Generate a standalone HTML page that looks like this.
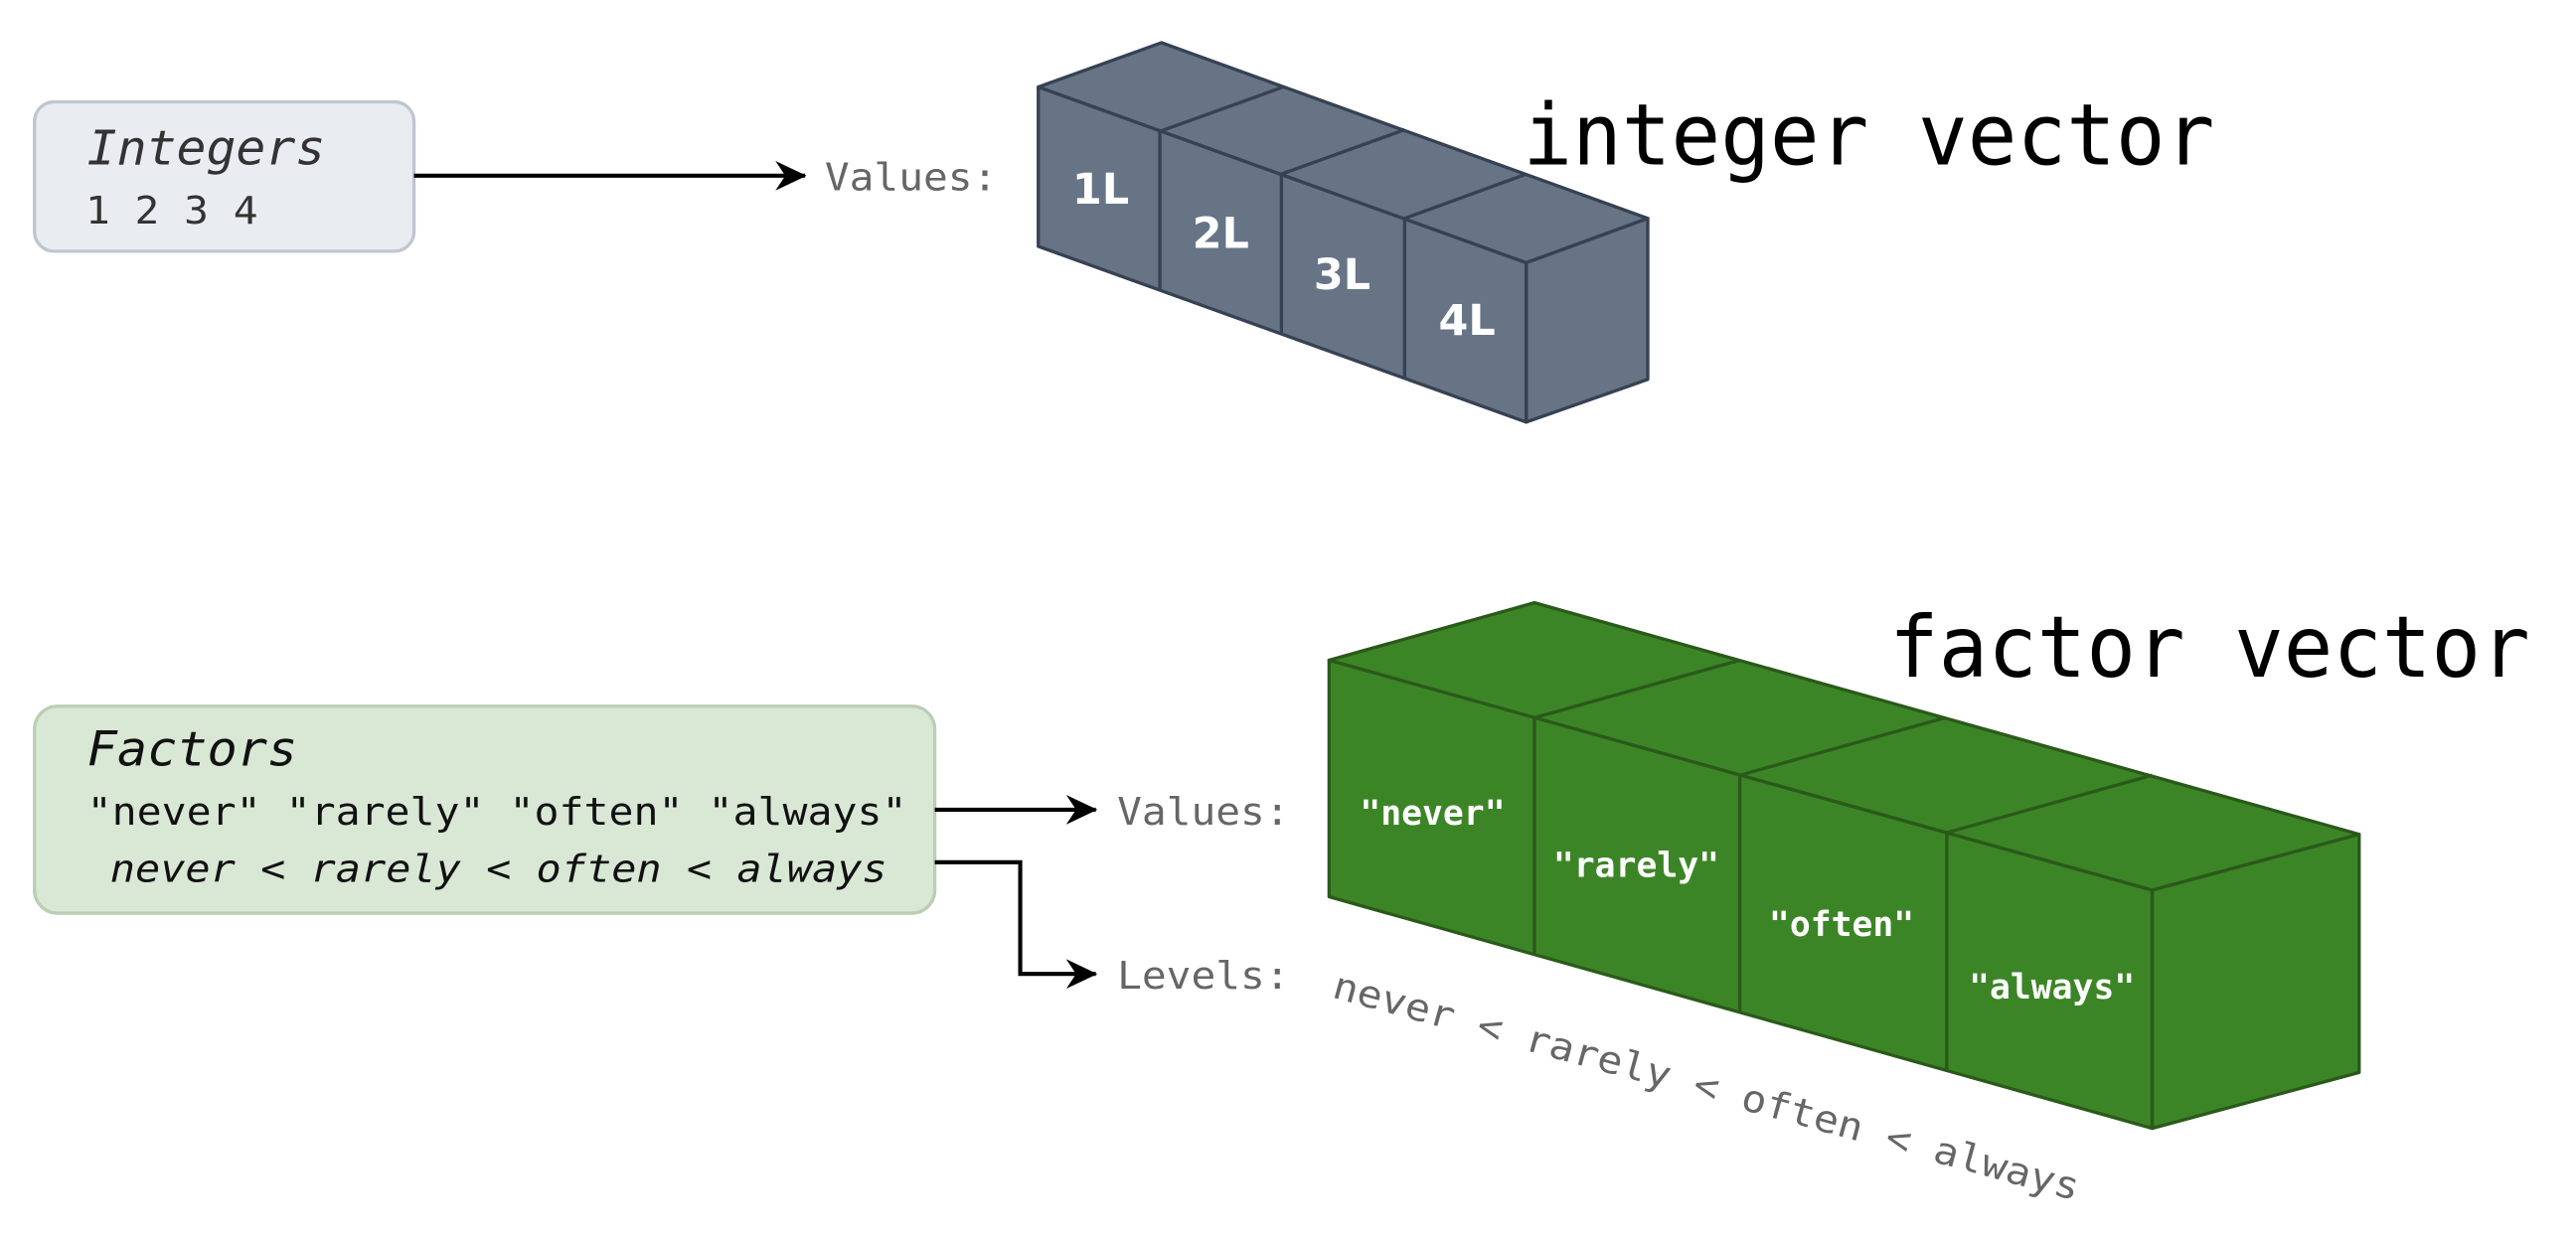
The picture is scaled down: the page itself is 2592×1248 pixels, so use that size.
<!DOCTYPE html>
<html><head><style>html,body{margin:0;padding:0;background:#fff}svg{display:block}</style></head><body>
<svg width="2592" height="1248" viewBox="0 0 1568 755" preserveAspectRatio="none" xmlns="http://www.w3.org/2000/svg">
<defs><marker id="a" markerWidth="20" markerHeight="20" refX="18" refY="10" orient="auto" markerUnits="userSpaceOnUse"><path d="M0,1 L19,10 L0,19 L6,10 Z" fill="#000"/></marker></defs>
<g font-family="'DejaVu Sans Mono','Liberation Mono',monospace">
<rect x="21" y="62" width="231" height="91" rx="12" fill="#e9edf1" stroke="#bfc6cf" stroke-width="2"/>
<text x="53" y="100" font-size="29" font-style="italic" fill="#333" textLength="145" lengthAdjust="spacingAndGlyphs">Integers</text>
<text x="52" y="136" font-size="23" fill="#333" textLength="105" lengthAdjust="spacingAndGlyphs">1 2 3 4</text>
<line x1="252" y1="107" x2="490" y2="107" stroke="#000" stroke-width="2.5" marker-end="url(#a)"/>
<text x="502" y="116" font-size="23" fill="#666" textLength="105" lengthAdjust="spacingAndGlyphs">Values:</text>
<text x="927" y="100" font-size="52" fill="#000" textLength="421" lengthAdjust="spacingAndGlyphs">integer vector</text>
<g fill="#667486" stroke="#364152" stroke-width="2" stroke-linejoin="round">
<polygon points="632,53 707,26 1003,133 929,160"/>
<polygon points="929,160 1003,133 1003,231 929,257"/>
<polygon points="632,53 929,160 929,257 632,150"/>
<line x1="706" y1="80" x2="781" y2="53"/><line x1="780" y1="106" x2="855" y2="79"/><line x1="855" y1="133" x2="929" y2="106"/>
<line x1="706" y1="80" x2="706" y2="177"/><line x1="780" y1="106" x2="780" y2="203"/><line x1="855" y1="133" x2="855" y2="230"/>
</g>
<g font-family="'DejaVu Sans','Liberation Sans',sans-serif" font-weight="bold" font-size="26" fill="#fff" text-anchor="middle">
<text x="670" y="124">1L</text><text x="743" y="151">2L</text><text x="817" y="176">3L</text><text x="893" y="204">4L</text></g>

<rect x="21" y="430" width="548" height="126" rx="14" fill="#d9e7d5" stroke="#b9cfb3" stroke-width="2"/>
<text x="53" y="466" font-size="29" font-style="italic" fill="#111" textLength="128" lengthAdjust="spacingAndGlyphs">Factors</text>
<text x="53" y="502" font-size="23" fill="#111" textLength="499" lengthAdjust="spacingAndGlyphs">"never" "rarely" "often" "always"</text>
<text x="67" y="537" font-size="23" font-style="italic" fill="#111" textLength="473" lengthAdjust="spacingAndGlyphs">never &lt; rarely &lt; often &lt; always</text>
<line x1="569" y1="493" x2="667" y2="493" stroke="#000" stroke-width="2.5" marker-end="url(#a)"/>
<polyline points="569,525 621,525 621,593 667,593" fill="none" stroke="#000" stroke-width="2.5" marker-end="url(#a)"/>
<text x="680" y="502" font-size="23" fill="#666" textLength="105" lengthAdjust="spacingAndGlyphs">Values:</text>
<text x="680" y="602" font-size="23" fill="#666" textLength="105" lengthAdjust="spacingAndGlyphs">Levels:</text>
<text x="0" y="0" font-size="23" fill="#666" transform="translate(810,607) rotate(15.3)" textLength="470" lengthAdjust="spacingAndGlyphs">never &lt; rarely &lt; often &lt; always</text>
<text x="1150" y="412" font-size="52" fill="#000" textLength="390" lengthAdjust="spacingAndGlyphs">factor vector</text>
<g fill="#3c8527" stroke="#2a5a1a" stroke-width="2" stroke-linejoin="round">
<polygon points="809,402 934,367 1436,508 1310,542"/>
<polygon points="1310,542 1436,508 1436,653 1310,687"/>
<polygon points="809,402 1310,542 1310,687 809,546"/>
<line x1="934" y1="437" x2="1059" y2="402"/><line x1="1059" y1="472" x2="1184" y2="437"/><line x1="1185" y1="507" x2="1310" y2="472"/>
<line x1="934" y1="437" x2="934" y2="581"/><line x1="1059" y1="472" x2="1059" y2="616"/><line x1="1185" y1="507" x2="1185" y2="652"/>
</g>
<g font-size="21" font-weight="bold" fill="#fff" text-anchor="middle">
<text x="872" y="502">"never"</text><text x="996" y="534">"rarely"</text><text x="1121" y="570">"often"</text><text x="1249" y="608">"always"</text></g>
</g>
</svg>
</body></html>
